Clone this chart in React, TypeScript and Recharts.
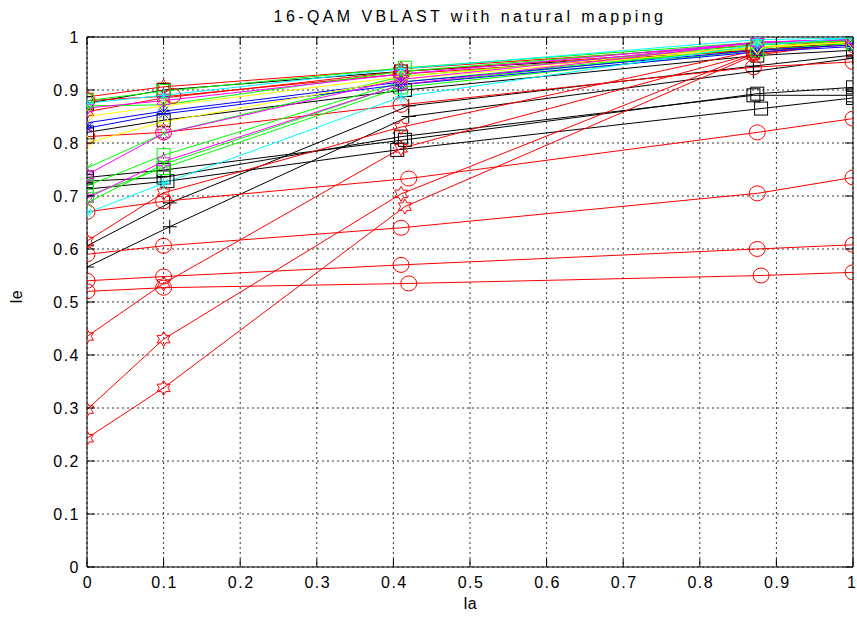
import React from 'react';
import { LineChart, Line, XAxis, YAxis, CartesianGrid, ReferenceLine } from 'recharts';

type Pt = [number, number];

// Ia / Ie pairs for each transfer curve
const kSquare1: Pt[] = [[0, 0.875], [0.1, 0.9], [0.41, 0.935], [0.87, 0.975], [1, 0.99]];
const kSquare2: Pt[] = [[0, 0.735], [0.1, 0.749], [0.415, 0.806], [0.875, 0.893], [1, 0.905]];
const kSquare3: Pt[] = [[0, 0.728], [0.1, 0.735], [0.41, 0.812], [0.87, 0.89], [1, 0.89]];
const kSquare4: Pt[] = [[0, 0.713], [0.105, 0.728], [0.405, 0.787], [0.88, 0.865], [1, 0.885]];
const kSquare5: Pt[] = [[0, 0.82], [0.1, 0.843], [0.415, 0.9], [0.875, 0.965], [1, 0.975]];
const kPlus1: Pt[] = [[0, 0.566], [0.108, 0.642], [0.42, 0.85], [0.87, 0.935], [1, 0.96]];
const kPlus2: Pt[] = [[0, 0.606], [0.108, 0.687], [0.42, 0.87], [0.87, 0.945], [1, 0.966]];

const rCircle1: Pt[] = [[0, 0.52], [0.1, 0.527], [0.42, 0.535], [0.88, 0.55], [1, 0.556]];
const rCircle2: Pt[] = [[0, 0.54], [0.1, 0.548], [0.41, 0.57], [0.875, 0.6], [1, 0.608]];
const rCircle3: Pt[] = [[0, 0.59], [0.1, 0.606], [0.41, 0.64], [0.875, 0.705], [1, 0.735]];
const rCircle4: Pt[] = [[0, 0.67], [0.1, 0.69], [0.42, 0.733], [0.875, 0.82], [1, 0.846]];
const rCircle5: Pt[] = [[0, 0.812], [0.1, 0.82], [0.41, 0.872], [0.87, 0.943], [1, 0.953]];
const rCircle6: Pt[] = [[0, 0.88], [0.112, 0.889], [0.41, 0.93], [0.87, 0.975], [1, 0.985]];
const rHex1: Pt[] = [[0, 0.243], [0.1, 0.338], [0.415, 0.68], [0.87, 0.965], [1, 0.99]];
const rHex2: Pt[] = [[0, 0.297], [0.1, 0.43], [0.41, 0.704], [0.87, 0.968], [1, 0.99]];
const rHex3: Pt[] = [[0, 0.435], [0.1, 0.535], [0.41, 0.79], [0.875, 0.97], [1, 0.992]];
const rHex4: Pt[] = [[0, 0.615], [0.1, 0.706], [0.41, 0.83], [0.875, 0.975], [1, 0.993]];
const rHex5: Pt[] = [[0, 0.859], [0.1, 0.885], [0.41, 0.935], [0.875, 0.98], [1, 0.995]];
const rHex6: Pt[] = [[0, 0.887], [0.1, 0.906], [0.41, 0.94], [0.875, 0.985], [1, 0.997]];

const gCross1: Pt[] = [[0, 0.687], [0.1, 0.76], [0.41, 0.91], [0.875, 0.98], [1, 0.99]];
const gCross2: Pt[] = [[0, 0.753], [0.1, 0.818], [0.41, 0.925], [0.875, 0.985], [1, 0.993]];
const gCross3: Pt[] = [[0, 0.87], [0.1, 0.872], [0.41, 0.935], [0.875, 0.988], [1, 0.994]];
const gSquare1: Pt[] = [[0, 0.719], [0.1, 0.777], [0.41, 0.915], [0.875, 0.98], [1, 0.99]];
const gSquare2: Pt[] = [[0, 0.7], [0.1, 0.753], [0.41, 0.905], [0.875, 0.975], [1, 0.988]];
const gSquare3: Pt[] = [[0, 0.88], [0.1, 0.898], [0.415, 0.942], [0.875, 0.99], [1, 0.995]];
const bStar1: Pt[] = [[0, 0.838], [0.1, 0.86], [0.41, 0.915], [0.875, 0.975], [1, 0.985]];
const bStar2: Pt[] = [[0, 0.828], [0.1, 0.855], [0.41, 0.91], [0.875, 0.972], [1, 0.982]];
const yDiamond1: Pt[] = [[0, 0.8], [0.1, 0.84], [0.41, 0.92], [0.875, 0.98], [1, 0.99]];
const yDiamond2: Pt[] = [[0, 0.85], [0.1, 0.87], [0.41, 0.925], [0.875, 0.982], [1, 0.99]];
const mHex1: Pt[] = [[0, 0.74], [0.1, 0.818], [0.41, 0.92], [0.875, 0.99], [1, 0.995]];
const mHex2: Pt[] = [[0, 0.696], [0.1, 0.765], [0.41, 0.91], [0.875, 0.99], [1, 0.995]];
const mHex3: Pt[] = [[0, 0.866], [0.1, 0.88], [0.41, 0.93], [0.875, 0.99], [1, 0.996]];
const cStar1: Pt[] = [[0, 0.668], [0.1, 0.724], [0.41, 0.887], [0.875, 0.985], [1, 0.998]];
const cStar2: Pt[] = [[0, 0.875], [0.1, 0.89], [0.41, 0.94], [0.875, 0.995], [1, 0.998]];

const TICKS = [0, 0.1, 0.2, 0.3, 0.4, 0.5, 0.6, 0.7, 0.8, 0.9, 1];

type Kind = 'o' | 's' | 'h' | '+' | 'x' | '*' | 'd';

const SERIES: { id: string; color: string; marker: Kind; pts: Pt[] }[] = [
  { id: 'ks1', color: '#000', marker: 's', pts: kSquare1 },
  { id: 'ks2', color: '#000', marker: 's', pts: kSquare2 },
  { id: 'ks3', color: '#000', marker: 's', pts: kSquare3 },
  { id: 'ks4', color: '#000', marker: 's', pts: kSquare4 },
  { id: 'ks5', color: '#000', marker: 's', pts: kSquare5 },
  { id: 'kp1', color: '#000', marker: '+', pts: kPlus1 },
  { id: 'kp2', color: '#000', marker: '+', pts: kPlus2 },
  { id: 'rc1', color: '#f00', marker: 'o', pts: rCircle1 },
  { id: 'rc2', color: '#f00', marker: 'o', pts: rCircle2 },
  { id: 'rc3', color: '#f00', marker: 'o', pts: rCircle3 },
  { id: 'rc4', color: '#f00', marker: 'o', pts: rCircle4 },
  { id: 'rc5', color: '#f00', marker: 'o', pts: rCircle5 },
  { id: 'rc6', color: '#f00', marker: 'o', pts: rCircle6 },
  { id: 'rh1', color: '#f00', marker: 'h', pts: rHex1 },
  { id: 'rh2', color: '#f00', marker: 'h', pts: rHex2 },
  { id: 'rh3', color: '#f00', marker: 'h', pts: rHex3 },
  { id: 'rh4', color: '#f00', marker: 'h', pts: rHex4 },
  { id: 'rh5', color: '#f00', marker: 'h', pts: rHex5 },
  { id: 'rh6', color: '#f00', marker: 'h', pts: rHex6 },
  { id: 'gx1', color: '#0f0', marker: 'x', pts: gCross1 },
  { id: 'gx2', color: '#0f0', marker: 'x', pts: gCross2 },
  { id: 'gx3', color: '#0f0', marker: 'x', pts: gCross3 },
  { id: 'gs1', color: '#0f0', marker: 's', pts: gSquare1 },
  { id: 'gs2', color: '#0f0', marker: 's', pts: gSquare2 },
  { id: 'gs3', color: '#0f0', marker: 's', pts: gSquare3 },
  { id: 'b1', color: '#00f', marker: '*', pts: bStar1 },
  { id: 'b2', color: '#00f', marker: '*', pts: bStar2 },
  { id: 'y1', color: '#ff0', marker: 'd', pts: yDiamond1 },
  { id: 'y2', color: '#ff0', marker: 'd', pts: yDiamond2 },
  { id: 'm1', color: '#f0f', marker: 'h', pts: mHex1 },
  { id: 'm2', color: '#f0f', marker: 'h', pts: mHex2 },
  { id: 'm3', color: '#f0f', marker: 'h', pts: mHex3 },
  { id: 'c1', color: '#0ff', marker: '*', pts: cStar1 },
  { id: 'c2', color: '#0ff', marker: '*', pts: cStar2 },
];

const W = 857;
const H = 622;
const TOP = 37;
const LEFT = 87;
const RIGHT = 853;
const BOTTOM = 567;
const FONT = '"Liberation Sans", Arial, sans-serif';

function starPoints(cx: number, cy: number, n: number, R: number, r: number) {
  const out: string[] = [];
  for (let i = 0; i < n * 2; i++) {
    const a = -Math.PI / 2 + (i * Math.PI) / n;
    const rad = i % 2 === 0 ? R : r;
    out.push(`${cx + rad * Math.cos(a)},${cy + rad * Math.sin(a)}`);
  }
  return out.join(' ');
}

function marker(kind: Kind, color: string, cx: number, cy: number, key: string) {
  const common = { fill: 'none', stroke: color, strokeWidth: 1 };
  switch (kind) {
    case 'o':
      return <ellipse key={key} cx={cx} cy={cy} rx={8} ry={7.5} {...common} />;
    case 's':
      return <rect key={key} x={cx - 6.5} y={cy - 6.5} width={13} height={13} {...common} />;
    case 'h':
      return <polygon key={key} points={starPoints(cx, cy, 6, 7.5, 4.3)} {...common} />;
    case 'd':
      return <polygon key={key} points={`${cx},${cy - 7} ${cx + 6},${cy} ${cx},${cy + 7} ${cx - 6},${cy}`} {...common} />;
    case '+':
      return <path key={key} d={`M${cx - 7},${cy}H${cx + 7}M${cx},${cy - 7}V${cy + 7}`} {...common} />;
    case 'x':
      return <path key={key} d={`M${cx - 5},${cy - 5}L${cx + 5},${cy + 5}M${cx - 5},${cy + 5}L${cx + 5},${cy - 5}`} {...common} />;
    case '*':
    default:
      return (
        <path
          key={key}
          d={`M${cx - 6},${cy}H${cx + 6}M${cx},${cy - 6}V${cy + 6}M${cx - 4.5},${cy - 4.5}L${cx + 4.5},${cy + 4.5}M${cx - 4.5},${cy + 4.5}L${cx + 4.5},${cy - 4.5}`}
          {...common}
        />
      );
  }
}

// inward tick marks on both edges, MATLAB style
const XTick = (p: any) => {
  const x = p.x;
  const v = p.payload.value;
  // the last label sits at the window edge, keep it inside
  const last = v === 1;
  return (
    <g>
      <line x1={x} x2={x} y1={BOTTOM} y2={BOTTOM - 8} stroke="#000" />
      <line x1={x} x2={x} y1={TOP} y2={TOP + 8} stroke="#000" />
      <text
        x={last ? W - 1 : x + 1}
        y={BOTTOM + 21}
        textAnchor={last ? 'end' : 'middle'}
        fontSize={16}
        letterSpacing={last ? 0 : 1.5}
        fontFamily={FONT}
        fill="#000"
      >
        {v}
      </text>
    </g>
  );
};

const YTick = (p: any) => {
  const y = p.y;
  const v = p.payload.value;
  return (
    <g>
      <line x1={LEFT} x2={LEFT + 8} y1={y} y2={y} stroke="#000" />
      <line x1={RIGHT} x2={RIGHT - 8} y1={y} y2={y} stroke="#000" />
      <text x={LEFT - 7} y={y + 6} textAnchor="end" fontSize={16} letterSpacing={1.5} fontFamily={FONT} fill="#000">
        {v}
      </text>
    </g>
  );
};

export default function App() {
  return (
    <div style={{ position: 'fixed', left: 0, top: 0, width: W, height: H, background: '#fff' }}>
      <LineChart width={W} height={H} margin={{ top: TOP, right: W - RIGHT, bottom: 25, left: 0 }}>
        <CartesianGrid stroke="#333" strokeDasharray="2 3" />
        <XAxis
          type="number"
          dataKey="la"
          domain={[0, 1]}
          ticks={TICKS}
          height={30}
          tickSize={0}
          tickMargin={0}
          tickLine={false}
          axisLine={{ stroke: '#000' }}
          tick={XTick}
          allowDataOverflow
        />
        <YAxis
          type="number"
          dataKey="ie"
          domain={[0, 1]}
          ticks={TICKS}
          width={LEFT}
          tickSize={0}
          tickMargin={0}
          tickLine={false}
          axisLine={{ stroke: '#000' }}
          tick={YTick}
          allowDataOverflow
        />
        <ReferenceLine x={1} stroke="#000" />
        <ReferenceLine y={1} stroke="#000" />
        {SERIES.map((s) => (
          <Line
            key={s.id}
            data={s.pts.map(([la, ie]) => ({ la, ie }))}
            dataKey="ie"
            type="linear"
            stroke={s.color}
            strokeWidth={1}
            isAnimationActive={false}
            activeDot={false}
            dot={(d: any) => marker(s.marker, s.color, d.cx, d.cy, `${s.id}-${d.index}`)}
          />
        ))}
      </LineChart>
      <div
        style={{
          position: 'absolute',
          top: 8,
          left: LEFT,
          width: RIGHT - LEFT,
          textAlign: 'center',
          fontFamily: FONT,
          fontSize: 16,
          letterSpacing: 3.4,
        }}
      >
        16-QAM VBLAST with natural mapping
      </div>
      <div
        style={{
          position: 'absolute',
          top: 595,
          left: LEFT,
          width: RIGHT - LEFT,
          textAlign: 'center',
          fontFamily: FONT,
          fontSize: 16,
        }}
      >
        Ia
      </div>
      <div
        style={{
          position: 'absolute',
          left: 10,
          top: 288,
          fontFamily: FONT,
          fontSize: 16,
          transform: 'rotate(-90deg)',
          transformOrigin: 'center',
        }}
      >
        Ie
      </div>
    </div>
  );
}
